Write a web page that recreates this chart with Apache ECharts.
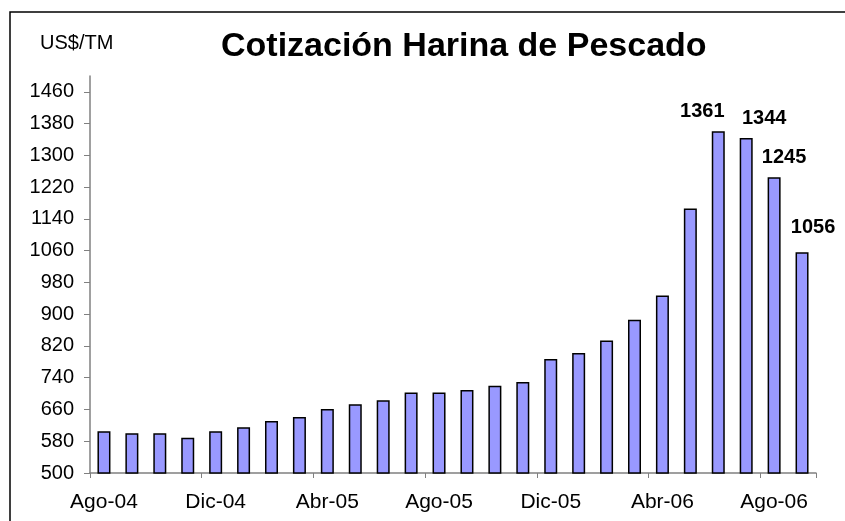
<!DOCTYPE html>
<html>
<head>
<meta charset="utf-8">
<script src="https://cdn.jsdelivr.net/npm/echarts@6/dist/echarts.min.js"></script>
<style>
  html, body { margin: 0; padding: 0; background: #fff; }
  #chart { width: 845px; height: 521px; }
</style>
</head>
<body>
<div id="chart"></div>
<script>
// meses Ago-04 .. Sep-06
const months = [
  "Ago-04", "Sep-04", "Oct-04", "Nov-04", "Dic-04", "Ene-05", "Feb-05", "Mar-05",
  "Abr-05", "May-05", "Jun-05", "Jul-05", "Ago-05", "Sep-05", "Oct-05", "Nov-05",
  "Dic-05", "Ene-06", "Feb-06", "Mar-06", "Abr-06", "May-06", "Jun-06", "Jul-06",
  "Ago-06", "Sep-06"
];
const prices = [
  605, 600, 600, 589, 605, 615, 631, 641,
  661, 673, 683, 703, 703, 709, 720, 729,
  787, 802, 834, 886, 947, 1166, 1361, 1344,
  1245, 1056
];
// solo los ultimos meses llevan etiqueta
const labeledMonths = ["Jun-06", "Jul-06", "Ago-06", "Sep-06"];
const yTicks = [500, 580, 660, 740, 820, 900, 980, 1060, 1140, 1220, 1300, 1380, 1460];

const labelOffsets = {
  "Jun-06": [-16, -5],
  "Jul-06": [18, -4],
  "Ago-06": [10, -5],
  "Sep-06": [11, -10]
};

const chart = echarts.init(document.getElementById("chart"));

const option = {
  animation: false,
  textStyle: { fontFamily: "Liberation Sans, Arial, sans-serif" },
  graphic: [
    {
      type: "polyline",
      silent: true,
      shape: { points: [[10, 540], [10, 12], [860, 12]] },
      style: { fill: null, stroke: "#000", lineWidth: 1.5 }
    }
  ],
  title: [
    {
      text: "Cotización Harina de Pescado",
      left: 216,
      top: 25,
      textStyle: { fontSize: 34, fontWeight: "bold", color: "#000" }
    },
    {
      text: "US$/TM",
      left: 35,
      top: 28,
      textStyle: { fontSize: 20, fontWeight: "normal", color: "#000" }
    }
  ],
  grid: {
    left: 90,
    right: 29,
    top: 76,
    bottom: 48
  },
  xAxis: {
    type: "category",
    data: months,
    boundaryGap: true,
    axisLine: { show: true, lineStyle: { color: "#808080", width: 1.5 } },
    axisTick: {
      show: true,
      interval: 3,
      length: 5,
      lineStyle: { color: "#808080" }
    },
    axisLabel: {
      interval: 3,
      margin: 19,
      fontSize: 21,
      color: "#000"
    }
  },
  yAxis: {
    type: "value",
    min: 500,
    max: 1500,
    splitLine: { show: false },
    axisLine: { show: true, lineStyle: { color: "#808080", width: 1.5 } },
    axisTick: {
      show: true,
      length: 6,
      customValues: yTicks,
      lineStyle: { color: "#808080" }
    },
    axisLabel: {
      margin: 16,
      fontSize: 20,
      color: "#000",
      customValues: yTicks,
      formatter: (v) => String(v)
    }
  },
  series: [
    {
      type: "bar",
      barWidth: 13,
      itemStyle: {
        color: "#9999ff",
        borderColor: "#000",
        borderWidth: 1.5
      },
      data: prices.map((v, i) => {
        const m = months[i];
        if (labeledMonths.indexOf(m) === -1) return v;
        return {
          value: v,
          label: {
            show: true,
            position: "top",
            offset: labelOffsets[m],
            fontSize: 20,
            fontWeight: "bold",
            color: "#000"
          }
        };
      })
    }
  ]
};

chart.setOption(option);
</script>
</body>
</html>
